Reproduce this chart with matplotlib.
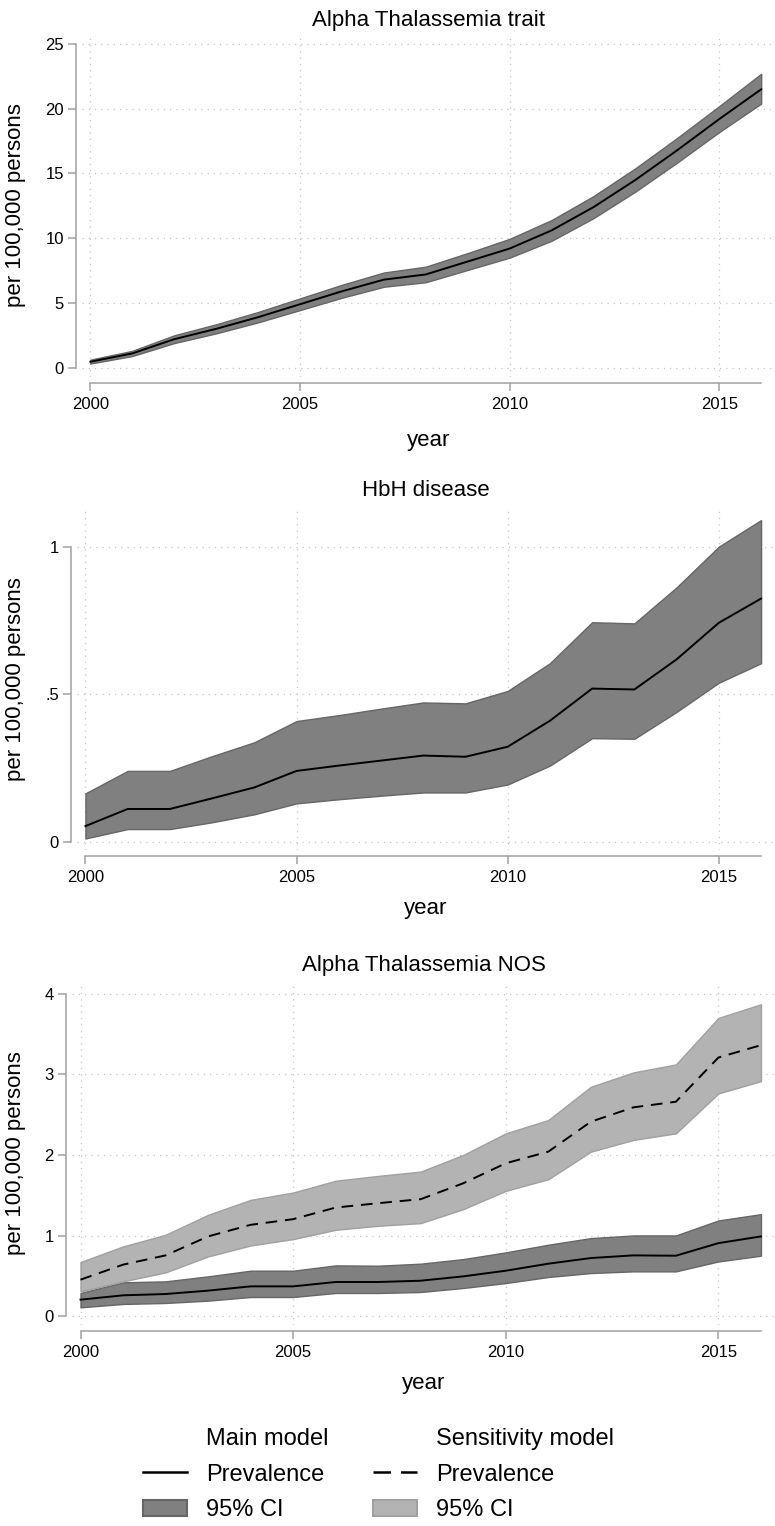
import matplotlib
matplotlib.use("Agg")
import matplotlib.pyplot as plt
from matplotlib.lines import Line2D
from matplotlib.patches import Patch
from matplotlib.transforms import blended_transform_factory

plt.rcParams['font.family'] = ['Liberation Sans', 'DejaVu Sans']

years = list(range(2000, 2017))

# Alpha Thalassemia trait
trait_prev = [0.46, 1.1, 2.2, 3.0, 3.9, 4.9, 5.9, 6.8, 7.2, 8.2, 9.2, 10.6, 12.4, 14.5, 16.8, 19.2, 21.5]
trait_lo = [0.32, 0.9, 1.9, 2.65, 3.5, 4.45, 5.4, 6.25, 6.6, 7.55, 8.5, 9.8, 11.55, 13.6, 15.85, 18.2, 20.4]
trait_hi = [0.62, 1.3, 2.5, 3.35, 4.3, 5.35, 6.4, 7.35, 7.8, 8.85, 9.95, 11.4, 13.25, 15.4, 17.75, 20.2, 22.7]

# HbH disease
hbh_prev = [0.053, 0.111, 0.111, 0.147, 0.184, 0.240, 0.258, 0.275, 0.292, 0.288, 0.322, 0.410, 0.519, 0.516, 0.618, 0.742, 0.824]
hbh_lo = [0.011, 0.043, 0.043, 0.066, 0.093, 0.130, 0.144, 0.156, 0.167, 0.167, 0.194, 0.258, 0.351, 0.349, 0.440, 0.539, 0.605]
hbh_hi = [0.164, 0.240, 0.240, 0.290, 0.337, 0.409, 0.429, 0.451, 0.472, 0.469, 0.511, 0.605, 0.744, 0.740, 0.862, 1.000, 1.090]

# Alpha Thalassemia NOS - main model
nos_prev = [0.206, 0.26, 0.276, 0.318, 0.371, 0.371, 0.425, 0.425, 0.441, 0.495, 0.565, 0.652, 0.722, 0.755, 0.751, 0.907, 0.99]
nos_lo = [0.111, 0.153, 0.165, 0.194, 0.239, 0.239, 0.289, 0.289, 0.301, 0.351, 0.412, 0.487, 0.536, 0.557, 0.557, 0.680, 0.751]
nos_hi = [0.289, 0.421, 0.433, 0.495, 0.565, 0.565, 0.631, 0.627, 0.652, 0.709, 0.792, 0.887, 0.969, 1.002, 1.002, 1.188, 1.266]

# Alpha Thalassemia NOS - sensitivity model
sens_prev = [0.454, 0.64, 0.755, 0.99, 1.134, 1.204, 1.348, 1.402, 1.452, 1.649, 1.897, 2.041, 2.412, 2.590, 2.66, 3.208, 3.361]
sens_lo = [0.309, 0.433, 0.544, 0.742, 0.878, 0.957, 1.072, 1.122, 1.155, 1.328, 1.555, 1.699, 2.041, 2.186, 2.268, 2.763, 2.915]
sens_hi = [0.672, 0.866, 1.01, 1.258, 1.443, 1.534, 1.68, 1.74, 1.794, 2.0, 2.268, 2.433, 2.845, 3.023, 3.122, 3.699, 3.868]

xticks = [2000, 2005, 2010, 2015]

W, H = 775, 1526
DARK, DARK_EDGE = '#808080', '#666666'
LIGHT, LIGHT_EDGE = '#b3b3b3', '#a0a0a0'
AXIS_GRAY = '#a0a0a0'

fig = plt.figure(figsize=(W / 100, H / 100), dpi=100)


def make_axes(left, top, bottom):
    return fig.add_axes([left / W, 1 - bottom / H, (W - left) / W, (bottom - top) / H])


def style_axes(ax, title, yticks, yticklabels, ylim, title_pad, xlabel_pad=10):
    ax.set_xlim(1999.8, 2016.33)
    ax.set_ylim(*ylim)
    ax.set_xticks(xticks)
    ax.set_xticklabels([str(t) for t in xticks])
    ax.set_yticks(yticks)
    ax.set_yticklabels(yticklabels)
    for s in ['top', 'right']:
        ax.spines[s].set_visible(False)
    for s in ['left', 'bottom']:
        ax.spines[s].set_color(AXIS_GRAY)
        ax.spines[s].set_linewidth(1.1)
        ax.spines[s].set_position(('outward', 4.3))
    ax.spines['left'].set_bounds(yticks[0], yticks[-1])
    ax.spines['bottom'].set_bounds(2000, 2016)
    ax.tick_params(axis='both', colors=AXIS_GRAY, labelcolor='black', labelsize=12,
                   length=5.8, width=1.1)
    ax.tick_params(axis='x', pad=4)
    ax.tick_params(axis='y', pad=3)
    ax.grid(True, color='#c4c4c4', linestyle=(0, (1, 4)), linewidth=0.9)
    ax.set_axisbelow(True)
    ax.set_title(title, fontsize=16, pad=title_pad)
    ax.set_xlabel('year', fontsize=16, labelpad=xlabel_pad)
    ax.set_ylabel('per 100,000 persons', fontsize=16, va='center')
    ax.yaxis.set_label_coords(16 / W, 0.5, transform=blended_transform_factory(fig.transFigure, ax.transAxes))


# panel 1
ax1 = make_axes(82, 33, 377)
ax1.fill_between(years, trait_lo, trait_hi, facecolor=DARK, edgecolor=DARK_EDGE, linewidth=1.0)
ax1.plot(years, trait_prev, color='black', linewidth=1.4)
style_axes(ax1, 'Alpha Thalassemia trait', [0, 5, 10, 15, 20, 25],
           ['0', '5', '10', '15', '20', '25'], (-0.72, 25.85), 5, xlabel_pad=13)

# panel 2
ax2 = make_axes(77, 508, 850)
ax2.fill_between(years, hbh_lo, hbh_hi, facecolor=DARK, edgecolor=DARK_EDGE, linewidth=1.0)
ax2.plot(years, hbh_prev, color='black', linewidth=1.4)
style_axes(ax2, 'HbH disease', [0, 0.5, 1], ['0', '.5', '1'], (-0.028, 1.131), 9)

# panel 3
ax3 = make_axes(72, 982, 1325)
ax3.fill_between(years, nos_lo, nos_hi, facecolor=DARK, edgecolor=DARK_EDGE, linewidth=1.0)
ax3.fill_between(years, sens_lo, sens_hi, facecolor=LIGHT, edgecolor=LIGHT_EDGE, linewidth=1.0)
ax3.plot(years, nos_prev, color='black', linewidth=1.4)
ax3.plot(years, sens_prev, color='black', linewidth=1.4, dashes=(6, 4))
style_axes(ax3, 'Alpha Thalassemia NOS', [0, 1, 2, 3, 4], ['0', '1', '2', '3', '4'], (-0.108, 4.144), 8)

# legend
blank = Line2D([], [], color='none')
handles = [blank,
           Line2D([], [], color='black', linewidth=1.8),
           Patch(facecolor=DARK, edgecolor=DARK_EDGE, linewidth=1.5),
           blank,
           Line2D([], [], color='black', linewidth=1.8, dashes=(7, 4)),
           Patch(facecolor=LIGHT, edgecolor=LIGHT_EDGE, linewidth=1.5)]
labels = ['Main model', 'Prevalence', '95% CI', 'Sensitivity model', 'Prevalence', '95% CI']
fig.legend(handles, labels, ncol=2, loc='upper left', bbox_to_anchor=(143 / W, 1 - 1428 / H),
           frameon=False, fontsize=17, handlelength=1.86, handleheight=0.7, handletextpad=0.8,
           columnspacing=1.9, labelspacing=0.58, borderpad=0, borderaxespad=0)

fig.savefig('out.png', dpi=100)
